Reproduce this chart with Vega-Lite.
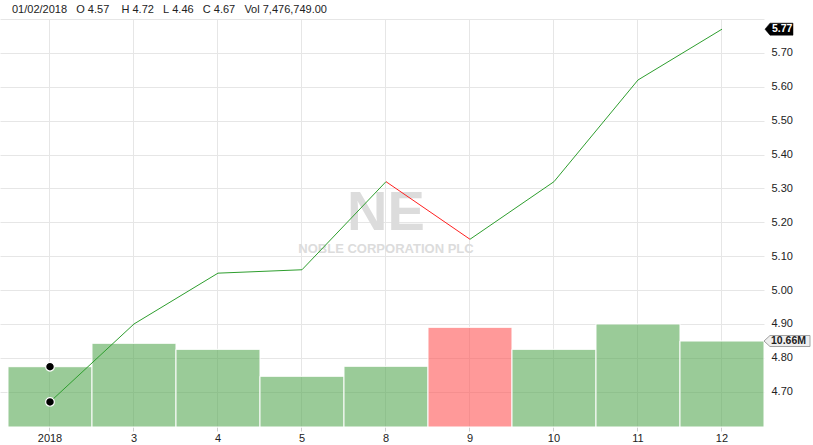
{
  "$schema": "https://vega.github.io/schema/vega-lite/v6.json",
  "width": 764,
  "height": 408,
  "autosize": {"type": "none"},
  "padding": {"left": 0, "top": 19, "right": 49, "bottom": 18},
  "background": "white",
  "title": {
    "text": "01/02/2018\u00a0\u00a0\u00a0O\u00a04.57\u00a0\u00a0\u00a0\u00a0H\u00a04.72\u00a0\u00a0\u00a0L\u00a04.46\u00a0\u00a0\u00a0C\u00a04.67\u00a0\u00a0\u00a0Vol\u00a07,476,749.00",
    "anchor": "start",
    "frame": "group",
    "dx": 12,
    "offset": 4,
    "fontSize": 11,
    "fontWeight": "normal",
    "color": "#222222",
    "font": "Liberation Sans"
  },
  "data": {
    "values": [
      {"d": "2018", "close": 4.67, "volume": 7476749, "dir": "up"},
      {"d": "3", "close": 4.90, "volume": 10380000, "dir": "up"},
      {"d": "4", "close": 5.05, "volume": 9630000, "dir": "up"},
      {"d": "5", "close": 5.06, "volume": 6290000, "dir": "up"},
      {"d": "8", "close": 5.32, "volume": 7530000, "dir": "up"},
      {"d": "9", "close": 5.15, "volume": 12360000, "dir": "down"},
      {"d": "10", "close": 5.32, "volume": 9630000, "dir": "up"},
      {"d": "11", "close": 5.62, "volume": 12770000, "dir": "up"},
      {"d": "12", "close": 5.77, "volume": 10660000, "dir": "up"}
    ]
  },
  "encoding": {
    "x": {
      "field": "d",
      "type": "ordinal",
      "sort": null,
      "scale": {
        "type": "band",
        "domain": ["2018", "3", "4", "5", "8", "9", "10", "11", "12"],
        "paddingInner": 0,
        "paddingOuter": 0.0476,
        "align": 1
      },
      "axis": {
        "title": null,
        "labelAngle": 0,
        "grid": true,
        "bandPosition": 0.5,
        "tickSize": 4,
        "tickColor": "#cccccc",
        "domain": false,
        "labelPadding": 1
      }
    }
  },
  "layer": [
    {
      "encoding": {
        "y": {
          "field": "volume",
          "type": "quantitative",
          "scale": {"domain": [0, 50590000], "nice": false, "zero": true},
          "axis": null
        }
      },
      "layer": [
        {
          "transform": [{"filter": "datum.d === '8'"}],
          "mark": {"type": "text", "text": "NE", "align": "center", "baseline": "alphabetic", "fontSize": 56, "fontWeight": "bold", "color": "#dcdcdc"},
          "encoding": {"y": {"datum": 24430000, "type": "quantitative"}}
        },
        {
          "transform": [{"filter": "datum.d === '8'"}],
          "mark": {"type": "text", "text": "NOBLE CORPORATION PLC", "align": "center", "baseline": "alphabetic", "fontSize": 13, "fontWeight": "bold", "color": "#dcdcdc"},
          "encoding": {"y": {"datum": 21540000, "type": "quantitative"}}
        },
        {
          "mark": {"type": "bar", "fillOpacity": 0.6, "stroke": "white", "strokeWidth": 1},
          "encoding": {
            "color": {
              "field": "dir",
              "type": "nominal",
              "scale": {"domain": ["up", "down"], "range": ["#57a853", "#ff5555"]},
              "legend": null
            }
          }
        },
        {
          "transform": [{"filter": "datum.d === '2018'"}],
          "mark": {"type": "point", "filled": true, "fill": "black", "stroke": "white", "strokeWidth": 1.2, "size": 75, "opacity": 1}
        },
        {
          "transform": [{"filter": "datum.d === '12'"}],
          "mark": {
            "type": "point",
            "shape": "M0,0L6,-5.5L46,-5.5L46,5.5L6,5.5Z",
            "size": 4,
            "filled": true,
            "fill": "#efefef",
            "stroke": "#a0a0a0",
            "strokeWidth": 1,
            "opacity": 1,
            "xOffset": 42
          }
        },
        {
          "transform": [{"filter": "datum.d === '12'"}],
          "mark": {"type": "text", "align": "left", "baseline": "middle", "dx": 49, "fontSize": 10.5, "fontWeight": "bold", "color": "#222222"},
          "encoding": {"text": {"field": "volume", "format": ".4s"}}
        }
      ]
    },
    {
      "encoding": {
        "y": {
          "field": "close",
          "type": "quantitative",
          "scale": {"domain": [4.596, 5.8], "nice": false, "zero": false},
          "axis": {
            "orient": "right",
            "title": null,
            "values": [4.7, 4.8, 4.9, 5.0, 5.1, 5.2, 5.3, 5.4, 5.5, 5.6, 5.7, 5.8],
            "format": ".2f",
            "labelExpr": "datum.value > 5.75 ? '' : datum.label",
            "ticks": false,
            "tickSize": 0,
            "labelPadding": 7,
            "domain": false,
            "grid": true
          }
        }
      },
      "layer": [
        {
          "transform": [{"filter": "indexof(['2018', '3', '4', '5', '8'], datum.d) >= 0"}],
          "mark": {"type": "line", "color": "#2e9e2e", "strokeWidth": 1}
        },
        {
          "transform": [{"filter": "indexof(['9', '10', '11', '12'], datum.d) >= 0"}],
          "mark": {"type": "line", "color": "#2e9e2e", "strokeWidth": 1}
        },
        {
          "transform": [{"filter": "datum.d === '8' || datum.d === '9'"}],
          "mark": {"type": "line", "color": "#ff2020", "strokeWidth": 1}
        },
        {
          "transform": [{"filter": "datum.d === '2018'"}],
          "mark": {"type": "point", "filled": true, "fill": "black", "stroke": "white", "strokeWidth": 1.2, "size": 75, "opacity": 1}
        },
        {
          "transform": [{"filter": "datum.d === '12'"}],
          "mark": {
            "type": "point",
            "shape": "M0,0L5,-6L28,-6L28,6L5,6Z",
            "size": 4,
            "filled": true,
            "fill": "black",
            "stroke": "black",
            "strokeWidth": 0.5,
            "opacity": 1,
            "xOffset": 43
          }
        },
        {
          "transform": [{"filter": "datum.d === '12'"}],
          "mark": {"type": "text", "align": "left", "baseline": "middle", "dx": 50, "fontSize": 10.5, "fontWeight": "bold", "color": "white"},
          "encoding": {"text": {"field": "close", "format": ".2f"}}
        }
      ]
    }
  ],
  "resolve": {"scale": {"y": "independent"}},
  "config": {
    "font": "Liberation Sans",
    "view": {"stroke": null},
    "axis": {
      "labelFont": "Liberation Sans",
      "labelFontSize": 11,
      "labelColor": "#222222",
      "gridColor": "#e6e6e6",
      "gridWidth": 1
    }
  }
}
